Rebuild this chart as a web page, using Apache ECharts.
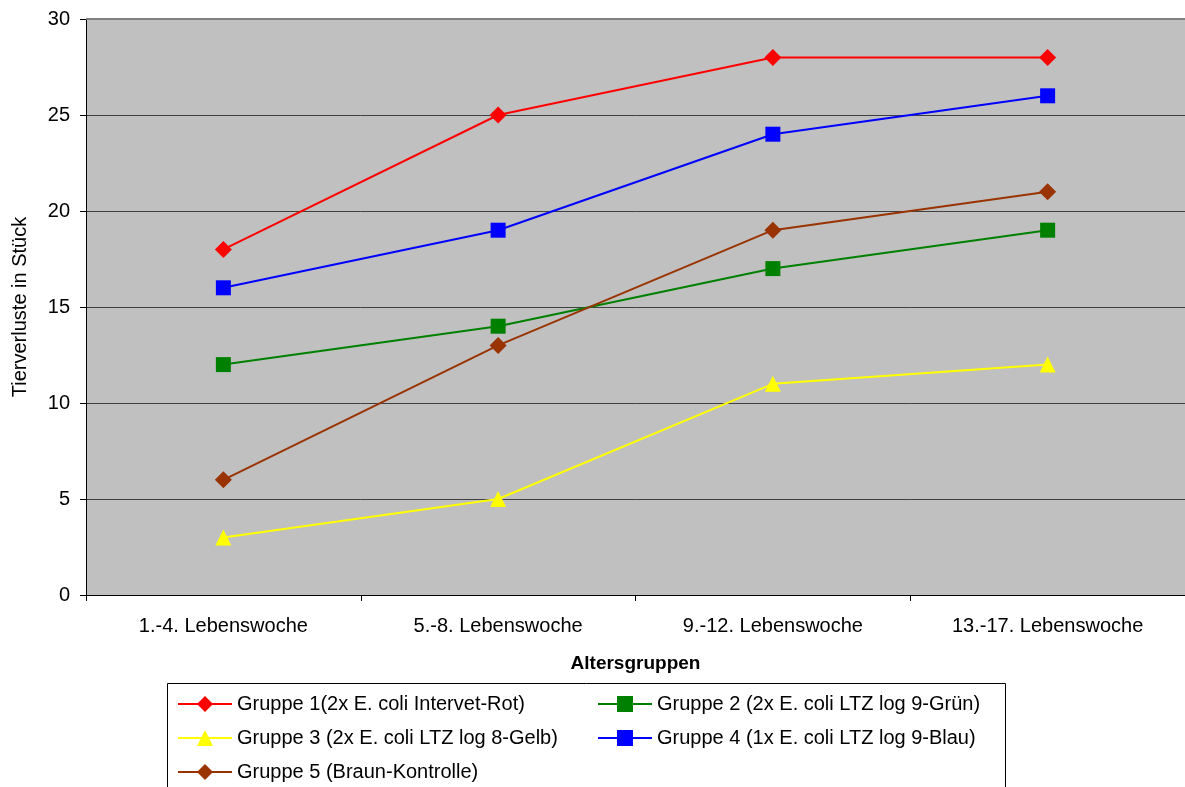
<!DOCTYPE html>
<html>
<head>
<meta charset="utf-8">
<script src="https://cdn.jsdelivr.net/npm/echarts@6/dist/echarts.min.js"></script>
<style>
  html, body { margin: 0; padding: 0; background: #fff; }
  #chart { width: 1185px; height: 787px; }
</style>
</head>
<body>
<div id="chart"></div>
<script>
// Altersgruppen (x-axis categories)
const categories = ['1.-4. Lebenswoche', '5.-8. Lebenswoche', '9.-12. Lebenswoche', '13.-17. Lebenswoche'];

// Tierverluste je Gruppe
const gruppe1 = [18, 25, 28, 28];
const gruppe2 = [12, 14, 17, 19];
const gruppe3 = [3, 5, 11, 12];
const gruppe4 = [16, 19, 24, 26];
const gruppe5 = [6, 13, 19, 21];

const names = [
  'Gruppe 1(2x E. coli Intervet-Rot)',
  'Gruppe 2 (2x E. coli LTZ log 9-Grün)',
  'Gruppe 3 (2x E. coli LTZ log 8-Gelb)',
  'Gruppe 4 (1x E. coli LTZ log 9-Blau)',
  'Gruppe 5 (Braun-Kontrolle)'
];

const FONT = 'Liberation Sans, Arial, sans-serif';

function line(name, data, color, symbol, size) {
  return {
    name, type: 'line', data,
    symbol, symbolSize: size,
    itemStyle: { color },
    lineStyle: { color, width: 2 },
    emphasis: { disabled: true },
    z: 3
  };
}

const chart = echarts.init(document.getElementById('chart'), null, { renderer: 'canvas' });

const legendText = { fontFamily: FONT, fontSize: 20, color: '#000', lineHeight: 20 };

chart.setOption({
  animation: false,
  backgroundColor: '#fff',
  grid: { left: 86, top: 19, right: 0, bottom: 192, backgroundColor: '#C0C0C0', show: true, borderWidth: 0 },
  graphic: [
    { type: 'rect', shape: { x: 167.5, y: 683.5, width: 838, height: 110 },
      style: { fill: '#fff', stroke: '#000', lineWidth: 1 }, z: 0 },
    { type: 'line', shape: { x1: 86, y1: 19, x2: 1185, y2: 19 },
      style: { stroke: '#808080', lineWidth: 2 }, z: 2 }
  ],
  legend: [
    {
      data: [names[0], names[2], names[4]],
      orient: 'vertical', left: 177, top: 694, padding: 0,
      itemWidth: 54, itemHeight: 20, itemGap: 14,
      lineStyle: { width: 2 },
      textStyle: legendText, z: 5
    },
    {
      data: [names[1], names[3]],
      orient: 'vertical', left: 597, top: 694, padding: 0,
      itemWidth: 54, itemHeight: 20, itemGap: 14,
      lineStyle: { width: 2 },
      textStyle: legendText, z: 5
    }
  ],
  xAxis: {
    type: 'category', data: categories, boundaryGap: true,
    name: 'Altersgruppen', nameLocation: 'middle', nameGap: 59,
    nameTextStyle: { fontFamily: FONT, fontSize: 19, fontWeight: 'bold', color: '#000' },
    axisLine: { lineStyle: { color: '#000', width: 1 } },
    axisTick: { show: true, length: 6, lineStyle: { color: '#000' } },
    axisLabel: { fontFamily: FONT, fontSize: 20, color: '#000', margin: 21 },
    splitLine: { show: false }
  },
  yAxis: {
    type: 'value', min: 0, max: 30, interval: 5,
    name: 'Tierverluste in Stück', nameLocation: 'middle', nameGap: 56, nameRotate: 90,
    nameTextStyle: { fontFamily: FONT, fontSize: 20, color: '#000' },
    axisLine: { show: true, lineStyle: { color: '#000', width: 1 } },
    axisTick: { show: true, length: 6, lineStyle: { color: '#000' } },
    axisLabel: { fontFamily: FONT, fontSize: 20, color: '#000', margin: 16 },
    splitLine: { show: true, lineStyle: { color: '#404040', width: 1 } }
  },
  series: [
    line(names[0], gruppe1, '#FF0000', 'diamond', 17),
    line(names[1], gruppe2, '#008000', 'rect', 15),
    line(names[2], gruppe3, '#FFFF00', 'triangle', 16),
    line(names[3], gruppe4, '#0000FF', 'rect', 15),
    line(names[4], gruppe5, '#993300', 'diamond', 17)
  ]
});
</script>
</body>
</html>
